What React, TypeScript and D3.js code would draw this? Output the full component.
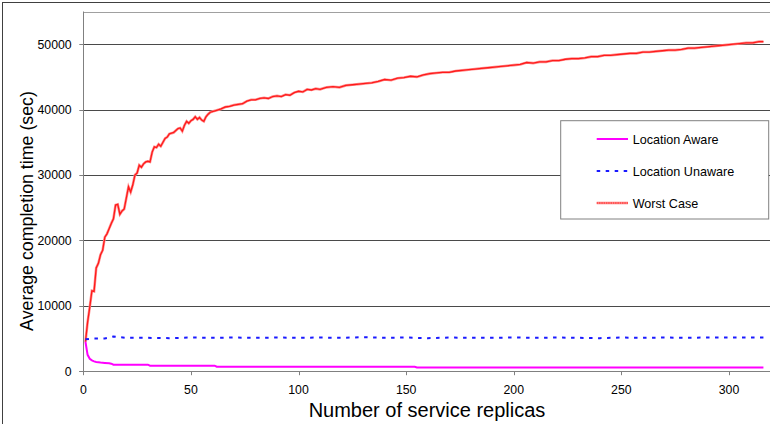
import React from "react";
import * as d3 from "d3";

// ---- data ----
const xTicks = [0, 50, 100, 150, 200, 250, 300];
const yTicks = [0, 10000, 20000, 30000, 40000, 50000];

const seriesNames = ["Location Aware", "Location Unaware", "Worst Case"];

// Location Aware (magenta)
const awareX = [1, 2, 3, 4, 5, 6, 7, 8, 10, 12, 13, 14, 30, 31, 61, 62, 154, 155, 316];
const awareY = [4500, 2500, 1900, 1650, 1500, 1420, 1370, 1320, 1270, 1220, 1150, 1000, 1000, 850, 850, 680, 680, 560, 560];

// Location Unaware (blue dashed)
const unawareX = [1, 5, 10, 14, 20, 30, 40, 50, 60, 70, 80, 90, 100, 110, 120, 130, 140, 150, 160, 170, 180, 190, 200, 210, 220, 230, 240, 250, 260, 270, 280, 290, 300, 316];
const unawareY = [4900, 5000, 5000, 5300, 5100, 5100, 5050, 5150, 5100, 5150, 5100, 5150, 5100, 5150, 5100, 5200, 5100, 5150, 5050, 5150, 5100, 5100, 5150, 5100, 5150, 5100, 5050, 5150, 5100, 5150, 5100, 5150, 5150, 5150];

// Worst Case (red)
const worstX = [
  1, 2, 3, 4, 5, 6, 7, 8, 9, 10, 11, 12, 13, 14, 15, 16, 17, 18, 19, 20,
  21, 22, 23, 24, 25, 26, 27, 28, 29, 30, 31, 32, 33, 34, 35, 36, 37, 38, 39, 40,
  41, 42, 43, 44, 45, 46, 47, 48, 49, 50, 51, 52, 53, 54, 55, 56, 57, 58, 59, 60,
  62, 64, 66, 68, 70, 72, 74, 76, 78, 80, 82, 84, 86, 88, 90, 92, 94, 96, 98, 100,
  102, 104, 106, 108, 110, 113, 116, 119, 122, 125, 128, 131, 134, 137, 140, 143, 146, 149, 152, 155,
  158, 161, 164, 167, 170, 173, 176, 179, 182, 185, 188, 191, 194, 197, 200, 203, 206, 209, 212, 215,
  218, 221, 224, 227, 230, 233, 236, 239, 242, 245, 248, 251, 254, 257, 260, 263, 266, 269, 272, 275,
  278, 281, 284, 287, 290, 293, 296, 299, 302, 305, 308, 311, 314, 316,
];
const worstY = [
  4500, 7500, 9800, 12300, 12200, 15800, 16500, 17800, 18500, 20500, 21000, 21800, 22600, 23300, 25400, 25500, 24000, 24500, 24800, 26500,
  28200, 27400, 28500, 30000, 30300, 31500, 31200, 31700, 32000, 32100, 32000, 33500, 34300, 34200, 34700, 34400, 35000, 35600, 35800, 36300,
  36400, 36500, 36800, 37100, 37200, 36700, 37600, 38200, 37900, 38300, 38500, 38900, 38500, 38800, 38400, 38200, 38900, 39300, 39600, 39700,
  39900, 40100, 40400, 40500, 40700, 40800, 40900, 41300, 41500, 41500, 41700, 41800, 41700, 42000, 42100, 42000, 42300, 42200, 42600, 42800,
  42700, 43100, 43000, 43200, 43100, 43400, 43500, 43400, 43700, 43800, 43900, 44000, 44100, 44300, 44600, 44500, 44800, 44900, 45100, 45000,
  45300, 45500, 45600, 45700, 45700, 45900, 46000, 46100, 46200, 46300, 46400, 46500, 46600, 46700, 46800, 46900, 47200, 47100, 47300, 47300,
  47500, 47500, 47700, 47800, 47800, 47900, 48100, 48100, 48300, 48300, 48400, 48500, 48600, 48600, 48800, 48800, 48900, 49000, 49100, 49100,
  49200, 49400, 49400, 49500, 49600, 49700, 49800, 49900, 50000, 50100, 50200, 50200, 50400, 50400,
];

const W = 770;
const H = 424;
const FONT = "'Liberation Sans', Arial, sans-serif";

export default function App() {
  const x = d3.scaleLinear().domain([0, 320]).range([83.3, 83.3 + 320 * 2.1523]);
  const y = d3.scaleLinear().domain([0, 55000]).range([371.2, 11.5]);

  const toPts = (xs: number[], ys: number[]) => xs.map((v, i) => [v, ys[i]] as [number, number]);
  const line = d3
    .line<[number, number]>()
    .x((d) => x(d[0]))
    .y((d) => y(d[1]));

  const awarePath = line(toPts(awareX, awareY)) || "";
  const unawarePath = line(toPts(unawareX, unawareY)) || "";
  const worstPath = line(toPts(worstX, worstY)) || "";

  const plotL = x(0);
  const plotR = x(320);
  const plotT = y(55000);
  const plotB = y(0);

  const legX = 560.7;
  const legY = 120.7;
  const legRows = [139, 171, 203];

  return (
    <svg
      width={W}
      height={H}
      style={{ position: "absolute", left: 0, top: 0, background: "#fff" }}
      fontFamily={FONT}
    >
      <rect x={0} y={0} width={W} height={H} fill="#fff" />
      {/* outer chart frame */}
      <rect x={2.5} y={2.5} width={W + 20} height={H + 20} fill="none" stroke="#404040" strokeWidth={1} />

      {/* plot area top border */}
      <line x1={plotL} x2={plotR} y1={Math.round(plotT) + 0.5} y2={Math.round(plotT) + 0.5} stroke="#a0a0a0" strokeWidth={1} />

      {/* gridlines */}
      {yTicks.filter((t) => t > 0).map((t) => (
        <line key={t} x1={plotL} x2={plotR} y1={Math.round(y(t)) + 0.5} y2={Math.round(y(t)) + 0.5} stroke="#4a4a4a" strokeWidth={1} />
      ))}

      {/* axes */}
      <line x1={Math.round(plotL) + 0.5} x2={Math.round(plotL) + 0.5} y1={plotT} y2={plotB + 0.5} stroke="#808080" strokeWidth={1} />
      <line x1={plotL - 4} x2={plotR} y1={Math.round(plotB) + 0.5} y2={Math.round(plotB) + 0.5} stroke="#808080" strokeWidth={1} />

      {/* y ticks */}
      {yTicks.map((t) => (
        <g key={t}>
          <line x1={plotL - 4} x2={plotL} y1={Math.round(y(t)) + 0.5} y2={Math.round(y(t)) + 0.5} stroke="#808080" />
          <text x={71.7} y={y(t)} dy="0.36em" textAnchor="end" fontSize={12.3} fill="#000">
            {t}
          </text>
        </g>
      ))}

      {/* x ticks */}
      {xTicks.map((t) => (
        <g key={t}>
          <line x1={Math.round(x(t)) + 0.5} x2={Math.round(x(t)) + 0.5} y1={plotB} y2={plotB + 4} stroke="#808080" />
          <text x={x(t)} y={393.5} textAnchor="middle" fontSize={12.3} fill="#000">
            {t}
          </text>
        </g>
      ))}

      {/* axis titles */}
      <text x={427} y={416.5} textAnchor="middle" fontSize={20} fill="#000">
        Number of service replicas
      </text>
      <text transform={`translate(33,211) rotate(-90)`} textAnchor="middle" fontSize={17.8} fill="#000">
        Average completion time (sec)
      </text>

      {/* series */}
      <path d={worstPath} fill="none" stroke="#ff9090" strokeWidth={2.6} strokeLinejoin="miter" />
      <path d={worstPath} fill="none" stroke="#ff1a1a" strokeWidth={1.3} strokeLinejoin="miter" />
      <path d={unawarePath} fill="none" stroke="#1a1aff" strokeWidth={2} strokeDasharray="3.5,5.5" />
      <path d={awarePath} fill="none" stroke="#ff00ff" strokeWidth={2} />

      {/* legend */}
      <rect x={legX} y={legY} width={208} height={98.3} fill="#fff" stroke="#808080" strokeWidth={1} />
      <line x1={596.7} x2={628} y1={legRows[0]} y2={legRows[0]} stroke="#ff00ff" strokeWidth={2} />
      <line x1={596.7} x2={628} y1={legRows[1]} y2={legRows[1]} stroke="#1a1aff" strokeWidth={2} strokeDasharray="3.5,5.5" />
      <line x1={596.7} x2={628} y1={legRows[2]} y2={legRows[2]} stroke="#ff9090" strokeWidth={2.6} />
      <line x1={596.7} x2={628} y1={legRows[2]} y2={legRows[2]} stroke="#ff1a1a" strokeWidth={1.2} strokeDasharray="1.5,0.8" />
      {seriesNames.map((n, i) => (
        <text key={n} x={632.7} y={legRows[i]} dy="0.36em" fontSize={12.6} fill="#000">
          {n}
        </text>
      ))}
    </svg>
  );
}
